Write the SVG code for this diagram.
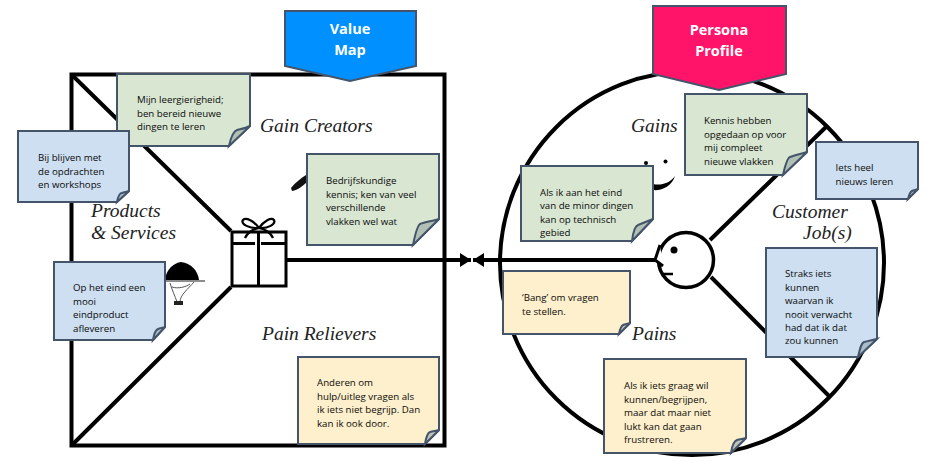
<svg xmlns="http://www.w3.org/2000/svg" width="930" height="468" viewBox="0 0 930 468">
<style>
.ln{fill:none;stroke:#000;stroke-width:4}
.note{stroke:#44546a;stroke-width:2;stroke-linejoin:miter}
.g{fill:#d8e6d2}.b{fill:#cddff1}.y{fill:#fef0cc}
.fg{fill:#b0c0b5}.fb{fill:#a9bccb}.fy{fill:#c0c2b8}
.t{font-family:"Open Sans","Liberation Sans",sans-serif;font-size:9.7px;fill:#0a0a0a}
.lab{font-family:"Liberation Serif",serif;font-style:italic;font-size:19.5px;fill:#222}
.ban{font-family:"Open Sans","Liberation Sans",sans-serif;font-weight:700;font-size:14.5px;fill:#fff;text-anchor:middle}
.bs{stroke:#44546a;stroke-width:2}
</style>
<defs>
<marker id="ah" markerUnits="userSpaceOnUse" markerWidth="12" markerHeight="14" refX="11" refY="7" orient="auto-start-reverse"><path d="M0 0L11 7L0 14Z" fill="#000"/></marker>
</defs>
<rect width="930" height="468" fill="#fff"/>
<g id="value-map-frame">
<rect class="ln" x="71.5" y="74.5" width="373" height="371"/>
<path class="ln" d="M72 75L231 231M231 287L72 445"/>
</g>
<g id="persona-circle"><circle class="ln" cx="692" cy="263" r="192"/></g>
<g id="gift">
<rect x="232" y="232" width="54" height="54" fill="#fff" stroke="#000" stroke-width="3"/>
<path d="M232 243.500H255M261 243.500H286M258.500 232V286" fill="none" stroke="#000" stroke-width="3"/>
<path d="M259 228C254 221 246 217 243 220C240 224 250 229 259 228C268 229 276 224 274 220C271 217 264 221 259 228M259 228C253 229 247 233 245 238M259 228C265 229 271 233 273 238" fill="none" stroke="#000" stroke-width="2.200"/>
</g>
<g id="cloche">
<path d="M165 280C166 269 174 263 181 262C191 263 198 271 199 280Z" fill="#000"/>
<path d="M165 281H205" stroke="#666" stroke-width="1.500"/>
<path d="M170 283C172 290 175 296 177 302M194 282C188 289 180 295 180 302M172 287C178 289 186 287 190 284" fill="none" stroke="#555" stroke-width="1"/>
<rect x="174" y="301" width="9" height="4" fill="#222"/>
</g>
<g id="pen"><path d="M291 188C296 182 301 178 306 175L308 181C303 186 298 190 292 191Z" fill="#111"/></g>
<g id="smile">
<circle cx="646" cy="163" r="2" fill="#000"/><circle cx="665.500" cy="161.500" r="2" fill="#000"/>
<path d="M653 184C661 186 670 183 675 176C672 186 662 191 653 190Z" fill="#000"/>
</g>
<g id="connectors">
<line class="ln" x1="287" y1="260" x2="471" y2="260" marker-end="url(#ah)"/>
<line class="ln" x1="655" y1="260" x2="473" y2="260" marker-end="url(#ah)"/>
<path class="ln" d="M710 240L827 126M711 277L830 397"/>
</g>
<g id="head">
<circle cx="686" cy="260" r="27.500" fill="#fff" stroke="#000" stroke-width="3.500"/>
<path d="M660 245L655 260L663 266" fill="#fff" stroke="#000" stroke-width="3"/>
<circle cx="674" cy="250" r="3.500" fill="#000"/>
<path d="M663 274H673" stroke="#000" stroke-width="2.500"/>
</g>
<g id="label-gain-creators"><text class="lab" x="260" y="132">Gain Creators</text></g>
<g id="label-products"><text class="lab" x="91" y="217">Products</text><text class="lab" x="91" y="239">&amp; Services</text></g>
<g id="label-pain-relievers"><text class="lab" x="262" y="340">Pain Relievers</text></g>
<g id="label-gains"><text class="lab" x="631" y="132">Gains</text></g>
<g id="label-customer"><text class="lab" x="772" y="218">Customer</text><text class="lab" x="803" y="239">Job(s)</text></g>
<g id="label-pains"><text class="lab" x="632" y="340">Pains</text></g>
<g id="banner-value">
<path class="bs" fill="#0090ff" d="M285 11H416V66L350 81L285 66Z"/>
<text class="ban" x="350" y="34">Value</text><text class="ban" x="350" y="55">Map</text>
</g>
<g id="banner-persona">
<path class="bs" fill="#ff1469" d="M653 6H786V74L719 90L653 74Z"/>
<text class="ban" x="719" y="35">Persona</text><text class="ban" x="719" y="56">Profile</text>
</g>
<g id="note-leergierig">
<path class="note g" d="M117 74H250V126L229 146H117Z"/>
<path class="note fg" stroke-width="1" d="M229 146C231 137 234 131 237 130C241 129 246 128 250 126Z"/>
<text class="t"><tspan x="137" y="103">Mijn leergierigheid;</tspan><tspan x="137" y="116.500">ben bereid nieuwe</tspan><tspan x="137" y="130">dingen te leren</tspan></text>
</g>
<g id="note-bijblijven">
<path class="note b" d="M18 131H129V191L117 202H18Z"/>
<path class="note fb" d="M117 202C118 197 120 193 122 193C124 192 127 192 129 191Z"/>
<text class="t"><tspan x="38" y="161">Bij blijven met</tspan><tspan x="38" y="174.500">de opdrachten</tspan><tspan x="38" y="188">en workshops</tspan></text>
</g>
<g id="note-bedrijfskunde">
<path class="note g" d="M307 154H439V219L413 245H307Z"/>
<path class="note fg" d="M413 245C415 235 417 226 420 224C425 222 433 221 439 219Z"/>
<text class="t"><tspan x="326" y="184">Bedrijfskundige</tspan><tspan x="326" y="197.500">kennis; ken van veel</tspan><tspan x="326" y="211">verschillende</tspan><tspan x="326" y="224.500">vlakken wel wat</tspan></text>
</g>
<g id="note-eindproduct">
<path class="note b" d="M54 262H165V327L153 340H54Z"/>
<path class="note fb" d="M153 340C154 334 155 330 158 329C160 328 163 328 165 327Z"/>
<text class="t"><tspan x="73" y="291">Op het eind een</tspan><tspan x="73" y="304.500">mooi</tspan><tspan x="73" y="318">eindproduct</tspan><tspan x="73" y="331.500">afleveren</tspan></text>
</g>
<g id="note-hulp">
<path class="note y" d="M298 357H439V430L425 444H298Z"/>
<path class="note fy" d="M425 444C426 438 427 433 430 432C433 431 436 431 439 430Z"/>
<text class="t"><tspan x="317" y="386">Anderen om</tspan><tspan x="317" y="399.500">hulp/uitleg vragen als</tspan><tspan x="317" y="413">ik iets niet begrijp. Dan</tspan><tspan x="317" y="426.500">kan ik ook door.</tspan></text>
</g>
<g id="note-kennis">
<path class="note g" d="M685 94H807V152L783 175H685Z"/>
<path class="note fg" d="M783 175C785 166 787 158 790 157C795 155 801 154 807 152Z"/>
<text class="t"><tspan x="704" y="124">Kennis hebben</tspan><tspan x="704" y="137.500">opgedaan op voor</tspan><tspan x="704" y="151">mij compleet</tspan><tspan x="704" y="164.500">nieuwe vlakken</tspan></text>
</g>
<g id="note-iets">
<path class="note b" d="M816 142H918V189L908 199H816Z"/>
<path class="note fb" d="M908 199C909 195 910 192 912 191C914 190 916 190 918 189Z"/>
<text class="t"><tspan x="835.500" y="171">Iets heel</tspan><tspan x="835.500" y="184.500">nieuws leren</tspan></text>
</g>
<g id="note-minor">
<path class="note g" d="M521 166H653V219L632 241H521Z"/>
<path class="note fg" d="M632 241C633 233 635 226 638 225C643 223 648 221 653 219Z"/>
<text class="t"><tspan x="540" y="195.500">Als ik aan het eind</tspan><tspan x="540" y="209">van de minor dingen</tspan><tspan x="540" y="222.500">kan op technisch</tspan><tspan x="540" y="236">gebied</tspan></text>
</g>
<g id="note-bang">
<path class="note y" d="M503 271H630V323L619 334H503Z"/>
<path class="note fy" d="M619 334C620 329 621 326 623 325C625 324 628 324 630 323Z"/>
<text class="t"><tspan x="522" y="301">‘Bang’ om vragen</tspan><tspan x="522" y="314.500">te stellen.</tspan></text>
</g>
<g id="note-straks">
<path class="note b" d="M766 248H877V339L858 357H766Z"/>
<path class="note fb" d="M858 357C860 349 861 343 864 342C868 341 873 340 877 339Z"/>
<text class="t"><tspan x="785" y="277">Straks iets</tspan><tspan x="785" y="290.500">kunnen</tspan><tspan x="785" y="304">waarvan ik</tspan><tspan x="785" y="317.500">nooit verwacht</tspan><tspan x="785" y="330.500">had dat ik dat</tspan><tspan x="785" y="343.500">zou kunnen</tspan></text>
</g>
<g id="note-frustreren">
<path class="note y" d="M604 359H746V438L731 453H604Z"/>
<path class="note fy" d="M731 453C732 446 734 441 737 440C740 439 743 439 746 438Z"/>
<text class="t"><tspan x="624" y="389">Als ik iets graag wil</tspan><tspan x="624" y="402.500">kunnen/begrijpen,</tspan><tspan x="624" y="416">maar dat maar niet</tspan><tspan x="624" y="429.500">lukt kan dat gaan</tspan><tspan x="624" y="442.500">frustreren.</tspan></text>
</g>
</svg>
